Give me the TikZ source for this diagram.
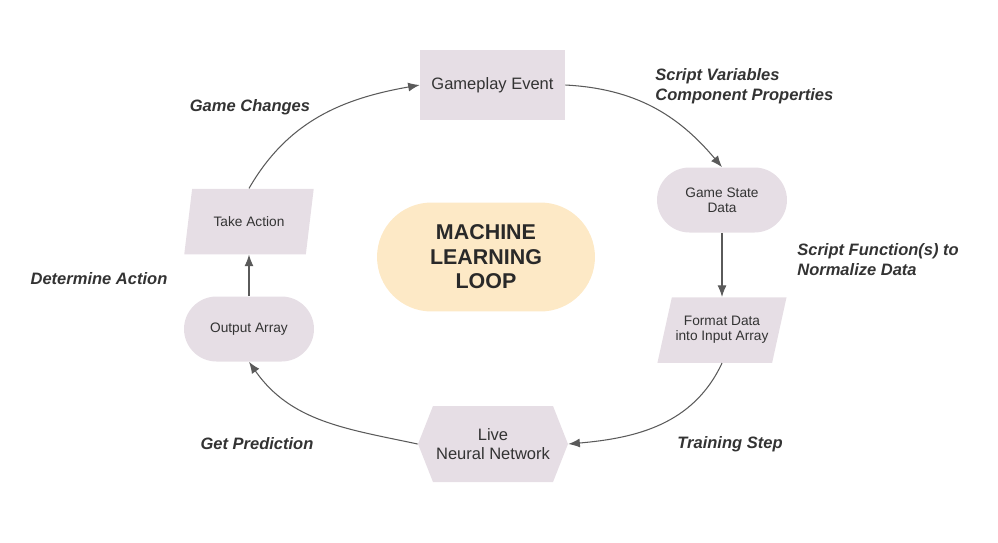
\documentclass[tikz,border=0pt]{standalone}
\usepackage{fontspec}
\setmainfont{Liberation Sans}
\usetikzlibrary{arrows.meta,positioning,shapes.geometric,shapes.symbols}
\definecolor{BoxLilac}{HTML}{E6DEE5}
\definecolor{LoopSand}{HTML}{FDE9C6}
\definecolor{InkGray}{HTML}{333333}
\definecolor{WireGray}{HTML}{5A5A5A}

\begin{document}
\begin{tikzpicture}[x=0.02cm,y=-0.02cm,
  every node/.style={text=InkGray,inner sep=0pt,align=center},
  box/.style={rectangle,fill=BoxLilac,minimum width=2.9cm,minimum height=1.4cm,
    font=\fontsize{9.4}{10.8}\selectfont},
  pill/.style={rectangle,rounded corners=0.65cm,fill=BoxLilac,minimum width=2.6cm,
    minimum height=1.3cm,font=\fontsize{7.8}{8.6}\selectfont},
  io/.style={trapezium,trapezium left angle=64,trapezium right angle=116,
    trapezium stretches=true,fill=BoxLilac,minimum width=2.6cm,minimum height=1.31cm,
    font=\fontsize{7.8}{8.6}\selectfont},
  hexa/.style={signal,signal to=east and west,signal pointer angle=137,fill=BoxLilac,
    minimum width=3cm,minimum height=1.52cm,font=\fontsize{9.4}{10.8}\selectfont},
  note/.style={font=\fontsize{9.4}{11.3}\selectfont\bfseries\itshape,align=left},
  flow/.style={-{Latex[length=2.3mm,width=1.8mm]},line width=.6pt,color=WireGray}]
\useasboundingbox (0,0) rectangle (998,542);

% loop stages
\node[box] (evt) at (492.5,85) {Gameplay Event};
\node[pill] (gsd) at (722,200) {Game State\\Data};
\node[io] (fmt) at (722,330) {Format Data\\into Input Array};
\node[hexa] (nn) at (493,444) {Live\\Neural Network};
\node[pill] (outarr) at (249,329) {Output Array};
\node[io] (take) at (249,221.5) {Take Action};

\node[fill=LoopSand,rounded corners=1.09cm,minimum width=4.36cm,minimum height=2.18cm,
  font=\fontsize{12.2}{13.9}\selectfont\bfseries,text=InkGray!80!black] (loop) at (486,257)
  {MACHINE\\LEARNING\\LOOP};

% connectors
\draw[flow] (take.north -| outarr.north) to[out=60,in=190] (evt.west);
\draw[flow] (evt.east) to[out=-3,in=130] (gsd.north);
\draw[flow] (gsd.south) -- (gsd.south |- fmt.north);
\draw[flow] (fmt.south) to[out=-115,in=5] (nn.east);
\draw[flow] (nn.west) to[out=168,in=-55] (outarr.south);
\draw[flow] (outarr.north) -- (outarr.north |- take.south);

% step labels
\node[note] (lgc) at (250,107) {Game Changes};
\node[note,anchor=west] (lsv) at (655,86) {Script Variables\\Component Properties};
\node[note,anchor=west] (lsf) at (797,259.5) {Script Function(s) to\\Normalize Data};
\node[note] (lts) at (730,444) {Training Step};
\node[note] (lgp) at (257,444) {Get Prediction};
\node[note] (lda) at (99,279) {Determine Action};
\end{tikzpicture}
\end{document}
